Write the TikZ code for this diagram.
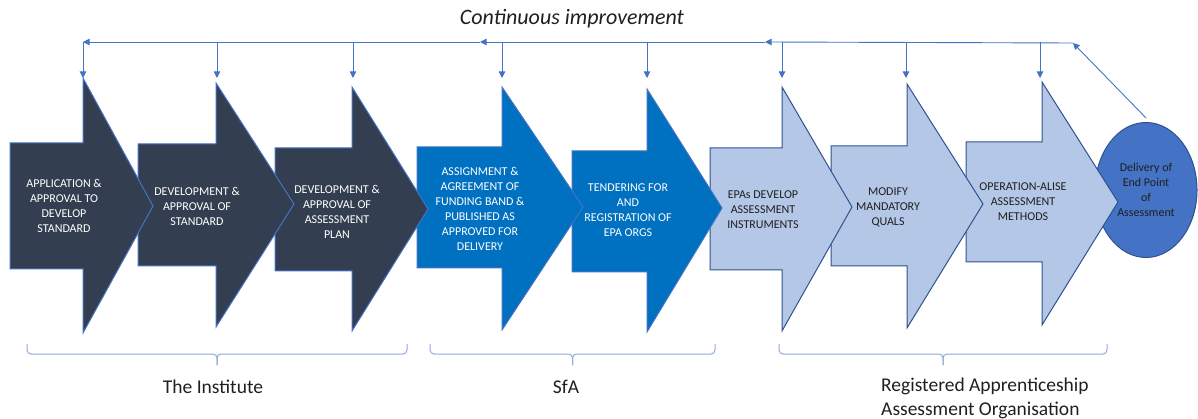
\documentclass[tikz,border=0pt]{standalone}
\usepackage{fontspec}
\setmainfont{Carlito}
\usetikzlibrary{arrows.meta,shapes.geometric}
\definecolor{slate}{HTML}{333F50}
\definecolor{sfablue}{HTML}{0070C0}
\definecolor{paleblue}{HTML}{B4C7E7}
\definecolor{accent}{HTML}{4472C4}
\definecolor{edgeblue}{HTML}{2F528F}
\definecolor{bracecol}{HTML}{8FAADC}
\definecolor{ink}{HTML}{1F1F1F}
\tikzset{
  chev/.style={line width=1pt, line join=miter},
  chevdark/.style={chev, fill=slate, draw=accent},
  chevsfa/.style={chev, fill=sfablue, draw=accent},
  chevpale/.style={chev, fill=paleblue, draw=edgeblue},
  steptext/.style={align=center, inner sep=0pt, font=\fontsize{12}{15}\selectfont},
  conn/.style={draw=accent, line width=0.9pt},
  grp/.style={draw=bracecol, line width=1pt, rounded corners=4pt},
  grplabel/.style={font=\fontsize{19.5}{24}\selectfont, text=ink, inner sep=0pt}
}
\begin{document}
\begin{tikzpicture}[x=1pt,y=-1pt,>={Triangle[length=6.5pt,width=6.5pt]}]
  \useasboundingbox (0,0) rectangle (1198,419);

  % end point ellipse, under the last arrow
  \node[ellipse, fill=accent, draw=edgeblue, line width=1pt, minimum width=102pt,
    minimum height=135pt, steptext, text=ink] (dlv) at (1146,190)
    {Delivery of\\End Point\\of\\Assessment};

  % block arrows, drawn right to left so each one lies over the next
  \draw[chevpale] (966,142) -- (1042,142) -- (1042,82) -- (1118,202) -- (1042,325) -- (1042,262) -- (966,262) -- cycle;
  \draw[chevpale] (831,146) -- (907,146) -- (907,84) -- (983,204) -- (907,328) -- (907,266) -- (831,266) -- cycle;
  \draw[chevpale] (710,148) -- (782,148) -- (782,87) -- (852,207) -- (782,331) -- (782,270) -- (710,270) -- cycle;
  \draw[chevsfa] (572,151) -- (647,151) -- (647,89) -- (722,208) -- (647,332) -- (647,272) -- (572,272) -- cycle;
  \draw[chevsfa] (417,147) -- (502,147) -- (502,87) -- (583,207) -- (502,330) -- (502,268) -- (417,268) -- cycle;
  \draw[chevdark] (275,148) -- (352,148) -- (352,87) -- (428,209) -- (352,331) -- (352,271) -- (275,271) -- cycle;
  \draw[chevdark] (138,144) -- (216,144) -- (216,83) -- (294,204) -- (216,327) -- (216,266) -- (138,266) -- cycle;
  \draw[chevdark] (10,143) -- (83,143) -- (83,78) -- (153,206) -- (83,333) -- (83,269) -- (10,269) -- cycle;

  % step texts
  \node[steptext, text=white] (s1) at (64,206) {APPLICATION \&\\APPROVAL TO\\DEVELOP\\STANDARD};
  \node[steptext, text=white] (s2) at (197,206) {DEVELOPMENT \&\\APPROVAL OF\\STANDARD};
  \node[steptext, text=white] (s3) at (337,212) {DEVELOPMENT \&\\APPROVAL OF\\ASSESSMENT\\PLAN};
  \node[steptext, text=white] (s4) at (480,209) {ASSIGNMENT \&\\AGREEMENT OF\\FUNDING BAND \&\\PUBLISHED AS\\APPROVED FOR\\DELIVERY};
  \node[steptext, text=white] (s5) at (628,210) {TENDERING FOR\\AND\\REGISTRATION OF\\EPA ORGS};
  \node[steptext, text=ink] (s6) at (763,210) {EPAs DEVELOP\\ASSESSMENT\\INSTRUMENTS};
  \node[steptext, text=ink] (s7) at (888,207) {MODIFY\\MANDATORY\\QUALS};
  \node[steptext, text=ink] (s8) at (1023,202) {OPERATION-ALISE\\ASSESSMENT\\METHODS};

  % feedback loop
  \node[font=\fontsize{22}{26}\selectfont\itshape, text=ink, inner sep=0pt] (ci) at (572,19) {Continuous improvement};
  \coordinate (r) at (1073,43);
  \coordinate (m2) at (765,42);
  \coordinate (m1) at (480,42);
  \coordinate (l) at (83,42);
  \draw[conn,->] ([yshift=4pt]dlv.north) -- (r);
  \draw[conn,->] (r) -- (m2);
  \draw[conn,->] (m2) -- (m1);
  \draw[conn,->] (m1) -- (l);
  \foreach \i/\x in {1/83,2/217,3/353,4/502,5/647,6/782,7/906,8/1040}{
    \coordinate (t\i) at (\x,42);
    \coordinate (a\i) at (\x,78);
    \draw[conn,->] (t\i) -- (a\i);
  }

  % who does what
  \foreach \a/\b in {27/407,430/715,779/1107}{
    \draw[grp] (\a,344) -- (\a,354) -- ({(\a+\b)/2},354) -- ({(\a+\b)/2},365);
    \draw[grp] ({(\a+\b)/2},365) -- ({(\a+\b)/2},354) -- (\b,354) -- (\b,344);
  }
  \node[grplabel] (g1) at (213,387) {The Institute};
  \node[grplabel] (g2) at (566,387) {SfA};
  \node[grplabel, align=left, anchor=north west] (g3) at (881,378) {Registered Apprenticeship\\Assessment Organisation};
\end{tikzpicture}
\end{document}
